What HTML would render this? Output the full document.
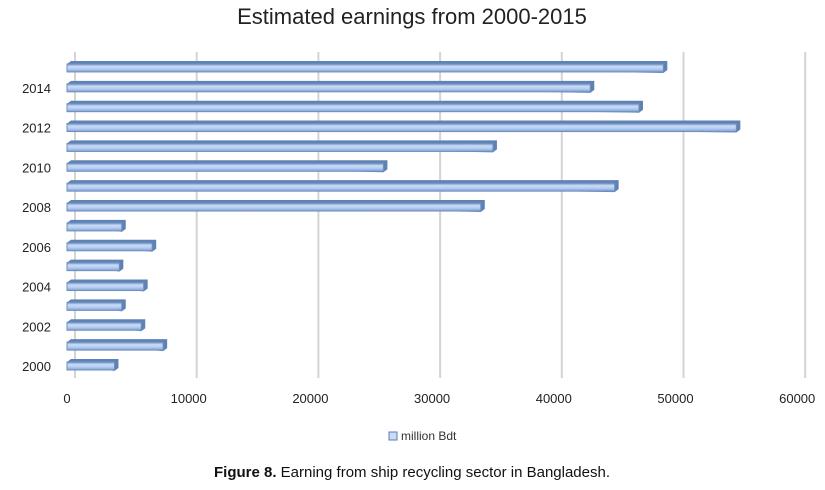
<!DOCTYPE html>
<html><head><meta charset="utf-8"><style>
body{margin:0;background:#fff;}
svg text{font-family:"Liberation Sans",sans-serif;}
</style></head><body>
<svg width="825" height="485">
<defs>
<linearGradient id="bg" x1="0" y1="0" x2="0" y2="1">
<stop offset="0" stop-color="#6f8fbf"/><stop offset="0.3" stop-color="#c9dbf7"/><stop offset="0.6" stop-color="#b7cff4"/><stop offset="1" stop-color="#7f9fcf"/>
</linearGradient>
</defs>
<text x="412" y="24" text-anchor="middle" font-size="22" fill="#222" font-family="DejaVu Sans">Estimated earnings from 2000-2015</text>
<g id="grid"></g>
<g id="bars"></g>
<g id="ylab"></g>
<g id="xlab"></g>
<g>
<rect x="389" y="432" width="8" height="8" fill="#c9dbf7" stroke="#5a7db0"/>
<text x="401" y="440" font-size="12" fill="#333">million Bdt</text>
</g>
<text x="412" y="477" text-anchor="middle" font-size="15" fill="#111" font-family="Liberation Sans Narrow, Liberation Sans, sans-serif"><tspan font-weight="bold">Figure 8.</tspan> Earning from ship recycling sector in Bangladesh.</text>
</svg>
<script>
const years=[2000,2001,2002,2003,2004,2005,2006,2007,2008,2009,2010,2011,2012,2013,2014,2015];
const values=[3900,7900,6100,4500,6300,4300,7000,4500,34000,45000,26000,35000,55000,47000,43000,49000];
const ticks=[0,10000,20000,30000,40000,50000,60000];
const NS="http://www.w3.org/2000/svg";
const x0=67,pxPer=121.7/10000;
function xs(v){return x0+v*pxPer;}
function yc(i){return 366-i*19.87;}
function mk(tag,attrs,parent){const e=document.createElementNS(NS,tag);for(const k in attrs)e.setAttribute(k,attrs[k]);document.getElementById(parent).appendChild(e);return e;}
ticks.forEach(t=>{
 const g=mk('line',{x1:xs(t)+8,x2:xs(t)+8,y1:52,y2:378,stroke:'#d4d4d4','stroke-width':2},'grid');
 
 
 const l=mk('text',{x:xs(t),y:403,'text-anchor':'middle','font-size':13,fill:'#222'},'xlab');
 l.textContent=t;
 
 
});
years.forEach((y,i)=>{
 const c=yc(i),w=xs(values[i])-x0;
 const d=mk('path',{d:`M${x0} ${c-4} l4 -3 h${w} v9 l-4 3 z`,fill:'#5f82b5'},'bars');
 
 
 const r=mk('rect',{x:x0,y:c-4,width:w,height:8,fill:'url(#bg)',stroke:'#6f8fbf','stroke-width':1},'bars');
 
 
 if(y%2===0){
  const t=mk('text',{x:51,y:c+5,'text-anchor':'end','font-size':13,fill:'#222'},'ylab');
  t.textContent=y;
  
  
 }
});
</script>
</body></html>
